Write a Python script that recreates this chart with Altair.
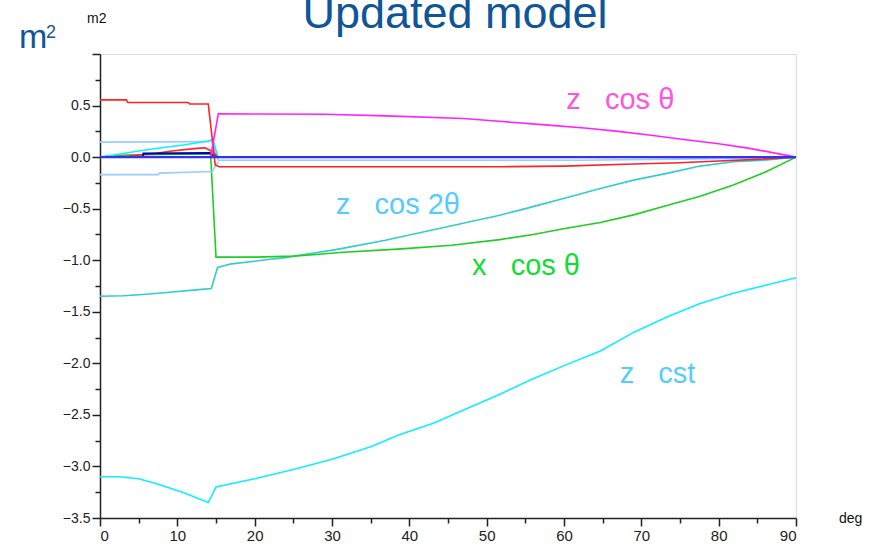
import altair as alt
import pandas as pd

# ---------------- data ----------------
zcst_x = [0, 2.5, 5, 7, 9, 11, 14, 15, 20, 25, 30, 35, 38.8, 43.1, 47.4, 51.7, 56, 60.4, 64.7, 69, 73.3, 77.6, 81.9, 86.2, 90]
zcst_y = [-3.10, -3.10, -3.12, -3.16, -3.21, -3.26, -3.35, -3.20, -3.12, -3.03, -2.93, -2.81, -2.69, -2.58, -2.44, -2.30, -2.15, -2.01, -1.88, -1.70, -1.55, -1.42, -1.32, -1.24, -1.17]

zcos2_x = [0, 3, 6, 9, 12.8, 14.4, 15.2, 17, 20, 22, 24, 26, 30.5, 36.9, 43.4, 51.7, 56, 60.3, 64.7, 69, 73.3, 77.6, 81.9, 86.2, 90]
zcos2_y = [-1.35, -1.345, -1.33, -1.31, -1.285, -1.275, -1.07, -1.035, -1.01, -0.99, -0.975, -0.95, -0.897, -0.806, -0.70, -0.563, -0.48, -0.395, -0.304, -0.223, -0.158, -0.087, -0.045, -0.028, 0]

xcos_x = [0, 1.5, 3.4, 13.6, 14.3, 15.0, 20, 25, 28, 31, 39, 45.5, 51.7, 56, 60.3, 64.7, 69, 73.3, 77.6, 81.9, 86.2, 90]
xcos_y = [0, 0.01, 0.02, 0.03, 0.03, -0.97, -0.97, -0.96, -0.945, -0.925, -0.89, -0.855, -0.80, -0.75, -0.69, -0.635, -0.56, -0.47, -0.38, -0.27, -0.14, 0]

zcos_x = [0, 14.3, 15.3, 29, 37, 47, 52, 58, 63, 67, 71, 75.5, 80, 84, 90]
zcos_y = [0, 0, 0.42, 0.415, 0.40, 0.375, 0.345, 0.31, 0.28, 0.25, 0.215, 0.17, 0.13, 0.085, 0]

red_x = [0, 3.4, 3.6, 11.4, 11.6, 14.0, 14.9, 15.4, 52, 60, 69, 75, 80, 85, 90]
red_y = [0.555, 0.555, 0.53, 0.53, 0.515, 0.515, -0.077, -0.093, -0.093, -0.087, -0.067, -0.054, -0.038, -0.022, 0]

red2_x = [0, 1.5, 3.7, 7.3, 9.3, 12.5, 13.6, 14.6, 15.2]
red2_y = [0, 0, 0.01, 0.037, 0.06, 0.085, 0.09, 0.05, 0]

lb1_x = [0, 14.0, 14.4, 15.3, 40, 62, 75, 85, 90]
lb1_y = [0.145, 0.15, 0.165, -0.03, -0.03, -0.03, -0.02, -0.01, 0]

lb2_x = [0, 7.5, 7.7, 13.4, 14.5, 15.3]
lb2_y = [-0.17, -0.17, -0.155, -0.142, -0.14, -0.045]

cyan2_x = [0, 2.6, 5.2, 8, 10.8, 14, 14.6, 15.3]
cyan2_y = [0, 0.03, 0.062, 0.09, 0.117, 0.156, 0.17, -0.01]

dblue_x = [0, 5.5, 5.6, 14.2, 15.0]
dblue_y = [0, 0, 0.035, 0.04, 0]

zero_x = [0, 90]
zero_y = [0, 0]

series = [
    ("z cst", zcst_x, zcst_y, "#11EEFF", 1.6),
    ("z cos 2θ", zcos2_x, zcos2_y, "#33CCCC", 1.6),
    ("x cos θ", xcos_x, xcos_y, "#22CC22", 1.6),
    ("lb1", lb1_x, lb1_y, "#99CCFF", 1.6),
    ("lb2", lb2_x, lb2_y, "#99CCFF", 1.6),
    ("cyan2", cyan2_x, cyan2_y, "#11EEFF", 1.6),
    ("red2", red2_x, red2_y, "#FF2222", 1.6),
    ("dblue", dblue_x, dblue_y, "#0000AA", 1.8),
    ("red", red_x, red_y, "#FF2222", 1.6),
    ("z cos θ", zcos_x, zcos_y, "#FF22FF", 1.6),
    ("zero", zero_x, zero_y, "#3333EE", 2.4),
]

NB = "\u00a0"
label_text = ["z" + NB * 3 + "cos θ", "z" + NB * 3 + "cos 2θ", "x" + NB * 3 + "cos θ", "z" + NB * 3 + "cst"]
label_x = [60.3, 30.5, 48.1, 67.2]
label_y = [0.47, -0.55, -1.14, -2.19]
label_color = ["#FF55DD", "#55CCFF", "#11DD33", "#55CCFF"]

FONT = "Liberation Sans"
TITLE_BLUE = "#105597"

major_test_x = "datum.value % 10 === 0"
major_test_y = "abs(datum.value*2 - round(datum.value*2)) < 0.001"

x_enc = alt.X(
    "x:Q",
    scale=alt.Scale(domain=[0, 90], nice=False, zero=False),
    axis=alt.Axis(
        title=None,
        values=list(range(0, 91, 5)),
        labelExpr="datum.value % 10 === 0 ? datum.label : ''",
        tickSize={"condition": {"test": major_test_x, "value": 8}, "value": 5},
        labelFont=FONT, labelFontSize=15, labelColor="#222222",
        labelPadding=2, labelOverlap=False, grid=False,
        domainColor="#222222", domainWidth=1.5, tickColor="#222222", tickWidth=1.5,
    ),
)
y_enc = alt.Y(
    "y:Q",
    scale=alt.Scale(domain=[-3.5, 1.0], nice=False, zero=False),
    axis=alt.Axis(
        title=None,
        values=[-3.5 + 0.25 * i for i in range(19)],
        format=".1f",
        labelExpr=f"({major_test_y}) && datum.value < 0.9 ? datum.label : ''",
        tickSize={"condition": {"test": major_test_y, "value": 8}, "value": 5},
        labelFont=FONT, labelFontSize=14, labelColor="#222222",
        labelPadding=2, labelOverlap=False, grid=False,
        domainColor="#222222", domainWidth=1.5, tickColor="#222222", tickWidth=1.5,
    ),
)

layers = []
for name, xs, ys, color, width in series:
    df = pd.DataFrame({"x": xs, "y": ys, "i": list(range(len(xs)))})
    layers.append(
        alt.Chart(df).mark_line(color=color, strokeWidth=width, interpolate="linear")
        .encode(x=x_enc, y=y_enc, order="i:Q")
    )

lab_df = pd.DataFrame({"t": label_text, "x": label_x, "y": label_y, "c": label_color})
labels = alt.Chart(lab_df).mark_text(
    font=FONT, fontSize=29, align="left", baseline="alphabetic"
).encode(
    x=x_enc, y=y_enc, text="t:N",
    color=alt.Color("c:N", scale=None),
)

anno = pd.DataFrame({"d": [0]})
def txt(s, x, y, size, color, align="left"):
    return alt.Chart(anno).mark_text(
        text=s, font=FONT, fontSize=size, color=color, align=align, baseline="alphabetic"
    ).encode(x=alt.value(x), y=alt.value(y))

title = txt("Updated model", 355, -26, 45, TITLE_BLUE, align="center")
m_big = txt("m", -81, -6, 34, TITLE_BLUE)
m_sup = txt("2", -54, -16, 18, TITLE_BLUE)
m_small = txt("m2", -13, -31, 14, "#111111")
deg = txt("deg", 739, 469, 14, "#111111")

chart = alt.layer(*layers, labels, title, m_big, m_sup, m_small, deg).properties(
    width=696, height=464,
    autosize=alt.AutoSizeParams(type="none"),
    padding={"left": 100, "top": 54, "right": 83, "bottom": 28},
).configure_view(stroke="#333333", strokeWidth=1.5).configure(background="white")

chart.save("out.html", embed_options={"renderer": "svg", "actions": False})
